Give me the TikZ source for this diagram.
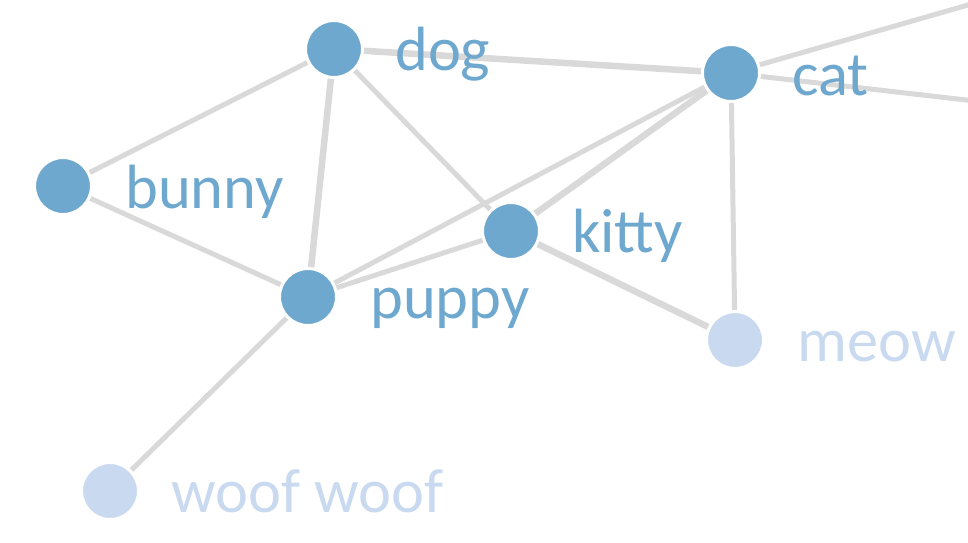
\documentclass[tikz,border=0pt]{standalone}
\usepackage{fontspec}
\setmainfont{Carlito}
\definecolor{nodeblue}{HTML}{6FA8CF}
\definecolor{nodelight}{HTML}{C9DAF0}
\definecolor{edgegray}{HTML}{D9D9D9}
\begin{document}
\begin{tikzpicture}[x=1pt,y=-1pt,
  vert/.style={circle,fill=nodeblue,draw=white,line width=3pt,minimum size=57pt,inner sep=0pt},
  vertlight/.style={vert,fill=nodelight},
  lab/.style={anchor=base west,text=nodeblue,font=\fontsize{62.5}{62.5}\selectfont,inner sep=0pt},
  lablight/.style={lab,text=nodelight},
  edge/.style={draw=edgegray,line width=5pt},
  thickedge/.style={draw=edgegray,line width=6.5pt}]
\clip (0,0) rectangle (968,542);
\useasboundingbox (0,0) rectangle (968,542);
\coordinate (dogc) at (334,49);
\coordinate (catc) at (731,73);
\coordinate (bunnyc) at (63,186);
\coordinate (kittyc) at (511,231);
\coordinate (puppyc) at (308,297);
\coordinate (meowc) at (735,340);
\coordinate (woofc) at (110,491);
\coordinate (out1) at (975,3);
\coordinate (out2) at (975,101);
% edges
\draw[edge] (dogc) -- (bunnyc);
\draw[thickedge] (dogc) -- (puppyc);
\draw[edge] (dogc) -- (kittyc);
\draw[thickedge] (dogc) -- (catc);
\draw[edge] (bunnyc) -- (puppyc);
\draw[edge] (puppyc) -- (kittyc);
\draw[edge] (puppyc) -- (catc);
\draw[thickedge] (kittyc) -- (catc);
\draw[thickedge] (kittyc) -- (meowc);
\draw[edge] (catc) -- (meowc);
\draw[edge] (puppyc) -- (woofc);
\draw[edge] (catc) -- (out1);
\draw[edge] (catc) -- (out2);
% nodes
\node[vert] (dog) at (dogc) {};
\node[vert] (cat) at (catc) {};
\node[vert] (bunny) at (bunnyc) {};
\node[vert] (kitty) at (kittyc) {};
\node[vert] (puppy) at (puppyc) {};
\node[vertlight] (meow) at (meowc) {};
\node[vertlight] (woof) at (woofc) {};
% labels
\node[lab] (doglab) at (395,70) {dog};
\node[lab] (catlab) at (792,95) {cat};
\node[lab] (bunnylab) at (125,208) {bunny};
\node[lab] (kittylab) at (572,252) {kitty};
\node[lab] (puppylab) at (370,318) {puppy};
\node[lablight] (meowlab) at (797,361) {meow};
\node[lablight] (wooflab) at (171,512) {woof woof};
\end{tikzpicture}
\end{document}
